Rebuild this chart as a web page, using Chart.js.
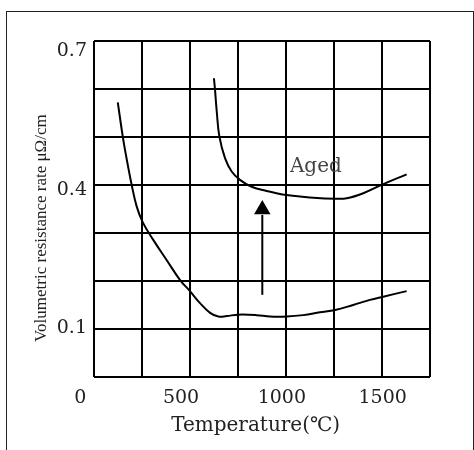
<!DOCTYPE html>
<html><head><meta charset="utf-8">
<script src="https://cdn.jsdelivr.net/npm/chart.js@4/dist/chart.umd.min.js"></script>
<style>
html,body{margin:0;padding:0;background:#fff;width:474px;height:450px;overflow:hidden}
#wrap{position:relative;width:474px;height:450px}
canvas{position:absolute;left:0;top:0}
#frame{position:absolute;left:6px;top:11px;width:466px;height:460px;border:1px solid #222;pointer-events:none}
</style></head><body>
<div id="wrap"><canvas id="c" width="474" height="450"></canvas><div id="frame"></div></div>
<script>
// ---- data ----
const xTickValues = [0, 500, 1000, 1500];
const yTickValues = [0.1, 0.4, 0.7];
const xTitle = 'Temperature(℃)';
const yTitle = 'Volumetric resistance rate μΩ/cm';
const gridDivisions = [0, 1, 2, 3, 4, 5, 6, 7];

const initialX = [186, 211, 231, 255, 280, 310, 362, 429, 495, 544, 594, 644, 685, 726, 784, 875, 941, 1024, 1106, 1189, 1264, 1354, 1437, 1503, 1619];
const initialY = [0.590, 0.515, 0.465, 0.411, 0.364, 0.330, 0.292, 0.248, 0.205, 0.181, 0.155, 0.134, 0.126, 0.127, 0.130, 0.129, 0.126, 0.126, 0.129, 0.135, 0.140, 0.151, 0.162, 0.169, 0.181];

const agedX = [663, 668, 677, 690, 718, 751, 792, 850, 925, 1024, 1090, 1156, 1264, 1322, 1404, 1495, 1619];
const agedY = [0.642, 0.619, 0.570, 0.516, 0.469, 0.440, 0.422, 0.407, 0.398, 0.389, 0.386, 0.383, 0.381, 0.382, 0.393, 0.411, 0.434];

const arrowX = [903, 903];
const arrowY = [0.173, 0.346];
const arrowHeadX = [903];
const arrowHeadY = [0.358];

const agedLabel = 'Aged';
const agedLabelX = 1040;
const agedLabelY = 0.440;

const pts = (xs, ys) => xs.map((x, i) => ({x, y: ys[i]}));

const labelPlugin = {
  id: 'agedLabel',
  afterDatasetsDraw(chart) {
    const {ctx, scales} = chart;
    ctx.save();
    ctx.font = '20px "DejaVu Serif"';
    ctx.fillStyle = '#444';
    ctx.textAlign = 'left';
    ctx.textBaseline = 'alphabetic';
    ctx.fillText(agedLabel, scales.x.getPixelForValue(agedLabelX), scales.y.getPixelForValue(agedLabelY));
    ctx.restore();
  }
};

new Chart(document.getElementById('c'), {
  type: 'line',
  data: {
    datasets: [
      {data: pts(initialX, initialY), borderColor: '#000', borderWidth: 2, pointRadius: 0, tension: 0.4, xAxisID: 'x', yAxisID: 'y'},
      {data: pts(agedX, agedY), borderColor: '#000', borderWidth: 2, pointRadius: 0, tension: 0.4, xAxisID: 'x', yAxisID: 'y'},
      {data: pts(arrowX, arrowY), borderColor: '#000', borderWidth: 2, pointRadius: 0, tension: 0, xAxisID: 'x', yAxisID: 'y'},
      {data: pts(arrowHeadX, arrowHeadY), showLine: false, pointStyle: 'triangle', pointRadius: 9.5, backgroundColor: '#000', borderWidth: 0, xAxisID: 'x', yAxisID: 'y'}
    ]
  },
  options: {
    responsive: false,
    animation: false,
    events: [],
    layout: {padding: {top: 41, right: 44, bottom: 0, left: 0}},
    plugins: {legend: {display: false}, tooltip: {enabled: false}},
    scales: {
      x: {
        type: 'linear', axis: 'x', position: 'bottom', min: 68, max: 1735,
        grid: {display: false, drawTicks: false},
        border: {display: false},
        afterBuildTicks: s => { s.ticks = xTickValues.map(v => ({value: v})); },
        afterFit: s => { s.height = 73; },
        ticks: {autoSkip: false, padding: 10, color: '#222', font: {family: '"DejaVu Serif"', size: 19}, callback: v => String(v)},
        title: {display: true, text: xTitle + '  ', color: '#222', font: {family: '"DejaVu Serif", "Noto Sans CJK KR"', size: 20}, padding: {top: 0, bottom: 12}}
      },
      y: {
        type: 'linear', axis: 'y', position: 'left', min: -0.005, max: 0.7227,
        grid: {display: false, drawTicks: false},
        border: {display: false},
        afterBuildTicks: s => { s.ticks = yTickValues.map(v => ({value: v})); },
        afterFit: s => { s.width = 94; },
        ticks: {autoSkip: false, padding: 7, color: '#222', font: {family: '"DejaVu Serif"', size: 19}, callback: v => v.toFixed(1)},
        title: {display: true, text: yTitle + '         ', color: '#222', font: {family: '"Liberation Serif"', size: 17}, padding: {top: 31, bottom: 0}}
      },
      gx: {
        type: 'linear', axis: 'x', position: 'top', min: 0, max: 7,
        afterBuildTicks: s => { s.ticks = gridDivisions.map(v => ({value: v})); },
        afterFit: s => { s.height = 0; },
        grid: {color: '#000', lineWidth: 2, drawTicks: false},
        border: {display: false},
        ticks: {display: false}
      },
      gy: {
        type: 'linear', axis: 'y', position: 'right', min: 0, max: 7,
        afterBuildTicks: s => { s.ticks = gridDivisions.map(v => ({value: v})); },
        afterFit: s => { s.width = 0; },
        grid: {color: '#000', lineWidth: 2, drawTicks: false},
        border: {display: false},
        ticks: {display: false}
      }
    }
  },
  plugins: [labelPlugin]
});
</script>
</body></html>
